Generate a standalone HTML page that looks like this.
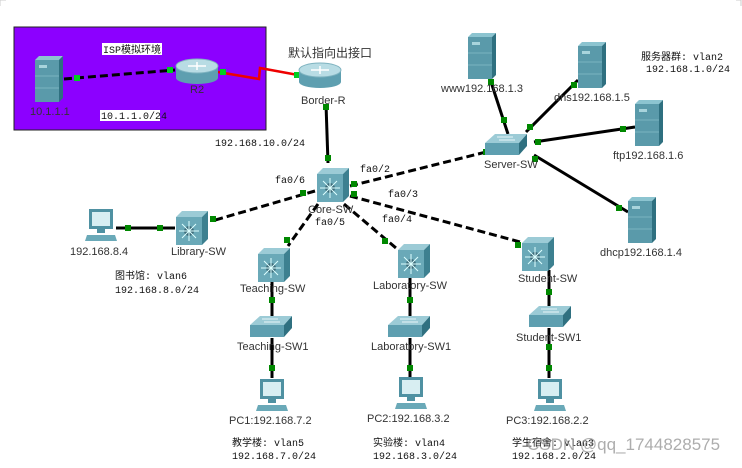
<!DOCTYPE html>
<html><head><meta charset="utf-8"><style>
html,body{margin:0;padding:0;background:#fff}
svg{display:block}
text{font-family:"Liberation Sans","Noto Sans CJK SC",sans-serif;font-size:11px;fill:#333}
.m{font-family:"Liberation Mono","Noto Sans CJK SC",monospace;font-size:10px;fill:#111}
</style></head><body>
<svg width="742" height="468" viewBox="0 0 742 468" xmlns="http://www.w3.org/2000/svg">
<defs>
<g id="srv"><rect x="0" y="4" width="24" height="42" fill="#5a9aaa"/><polygon points="0,4 4,0 28,0 24,4" fill="#8cc4d0"/><polygon points="24,4 28,0 28,42 24,46" fill="#2f7080"/><rect x="4" y="9" width="8" height="3" fill="#a8d4dc"/><line x1="0" y1="20" x2="24" y2="20" stroke="#7ab4c0"/><line x1="0" y1="32" x2="24" y2="32" stroke="#7ab4c0"/></g>
<g id="rtr"><rect x="0" y="8" width="42" height="12" fill="#5e9fb0"/><ellipse cx="21" cy="20" rx="21" ry="6" fill="#5e9fb0"/><ellipse cx="21" cy="8" rx="21" ry="7" fill="#b8dce4" stroke="#7fb3c0"/><path d="M12 8h18M21 4v8" stroke="#fff" stroke-width="1.5"/></g>
<g id="msw"><polygon points="0,6 6,0 32,0 26,6" fill="#9ccbd6"/><rect x="0" y="6" width="26" height="28" fill="#6aa9b8"/><polygon points="26,6 32,0 32,28 26,34" fill="#3d8090"/><circle cx="13" cy="20" r="5" fill="#3b6a78"/><path d="M13 10v20M3 20h20M6 13l14 14M20 13L6 27" stroke="#dff" stroke-width="1"/></g>
<g id="sw"><polygon points="0,9 10,0 42,0 34,9" fill="#9ccbd6"/><rect x="0" y="9" width="34" height="12" fill="#5e9fb0"/><polygon points="34,9 42,0 42,12 34,21" fill="#2f7080"/><path d="M12 3h16M14 6h16" stroke="#e8f6f8"/></g>
<g id="pc"><rect x="4" y="0" width="24" height="20" fill="#4f91a2"/><rect x="7" y="3" width="18" height="14" fill="#d8eef2"/><rect x="12" y="20" width="8" height="4" fill="#4f91a2"/><polygon points="2,26 30,26 32,32 0,32" fill="#6aa9b8"/></g>
</defs>
<path d="M0 6V0h6M736 0h5v6" stroke="#ccc" fill="none"/>
<rect x="14" y="27" width="252" height="103" fill="#8c00ff" stroke="#222"/>
<g stroke="#000" stroke-width="3" fill="none">
<path d="M64 79L175 70" stroke-dasharray="8,4"/>
<path d="M326 104L328 163"/>
<path d="M315 191L212 221" stroke-dasharray="8,4"/>
<path d="M116 228L175 228"/>
<path d="M318 204L288 246" stroke-dasharray="8,4"/>
<path d="M344 204L396 248" stroke-dasharray="8,4"/>
<path d="M350 196L535 246" stroke-dasharray="8,4"/>
<path d="M350 186L486 152" stroke-dasharray="8,4"/>
<path d="M491 82L508 134M578 80L526 132M635 127L534 142M534 155L628 212"/>
<path d="M272 278V316M272 338V378M410 278V316M410 338V378M549 270V306M549 328V378"/>
</g>
<path d="M218 72L259 79L260 68L298 75" stroke="#e00" stroke-width="2.5" fill="none"/>
<g fill="#00cc22"><rect x="74" y="75" width="6" height="6"/><rect x="167" y="67" width="6" height="6"/><rect x="220" y="69" width="6" height="6"/><rect x="294" y="72" width="6" height="6"/></g>
<g fill="#008800">
<rect x="323" y="104" width="6" height="6"/><rect x="325" y="155" width="6" height="6"/>
<rect x="300" y="190" width="6" height="6"/><rect x="210" y="216" width="6" height="6"/>
<rect x="125" y="225" width="6" height="6"/><rect x="157" y="225" width="6" height="6"/>
<rect x="284" y="237" width="6" height="6"/><rect x="382" y="238" width="6" height="6"/>
<rect x="515" y="242" width="6" height="6"/><rect x="483" y="149" width="6" height="6"/>
<rect x="351" y="181" width="6" height="6"/><rect x="351" y="191" width="6" height="6"/>
<rect x="488" y="79" width="6" height="6"/><rect x="501" y="117" width="6" height="6"/>
<rect x="571" y="82" width="6" height="6"/><rect x="527" y="124" width="6" height="6"/>
<rect x="620" y="126" width="6" height="6"/><rect x="535" y="139" width="6" height="6"/>
<rect x="532" y="156" width="6" height="6"/><rect x="616" y="205" width="6" height="6"/>
<rect x="269" y="297" width="6" height="6"/><rect x="269" y="365" width="6" height="6"/>
<rect x="407" y="297" width="6" height="6"/><rect x="407" y="365" width="6" height="6"/>
<rect x="546" y="289" width="6" height="6"/><rect x="546" y="344" width="6" height="6"/><rect x="546" y="365" width="6" height="6"/>
</g>
<use href="#srv" x="35" y="56"/>
<use href="#rtr" x="176" y="58"/>
<use href="#rtr" x="299" y="62"/>
<use href="#msw" x="317" y="168"/>
<use href="#msw" x="176" y="211"/>
<use href="#msw" x="258" y="248"/>
<use href="#msw" x="398" y="244"/>
<use href="#msw" x="522" y="237"/>
<use href="#sw" x="485" y="134"/>
<use href="#sw" x="250" y="316"/>
<use href="#sw" x="388" y="316"/>
<use href="#sw" x="529" y="306"/>
<use href="#srv" x="468" y="33"/>
<use href="#srv" x="578" y="42"/>
<use href="#srv" x="635" y="100"/>
<use href="#srv" x="628" y="197"/>
<use href="#pc" x="85" y="209"/>
<use href="#pc" x="256" y="379"/>
<use href="#pc" x="395" y="377"/>
<use href="#pc" x="534" y="379"/>
<rect x="102" y="43" width="60" height="12" fill="#fff"/>
<text x="103" y="53" class="m">ISP模拟环境</text>
<rect x="100" y="110" width="60" height="11" fill="#fff"/>
<text x="101" y="119" class="m">10.1.1.0/24</text>
<text x="30" y="115">10.1.1.1</text>
<text x="190" y="93">R2</text>
<text x="288" y="57" style="font-size:12px">默认指向出接口</text>
<text x="301" y="104">Border-R</text>
<text x="215" y="146" class="m">192.168.10.0/24</text>
<text x="308" y="213">Core-SW</text>
<text x="275" y="183" class="m">fa0/6</text>
<text x="315" y="225" class="m">fa0/5</text>
<text x="360" y="172" class="m">fa0/2</text>
<text x="388" y="197" class="m">fa0/3</text>
<text x="382" y="222" class="m">fa0/4</text>
<text x="70" y="255">192.168.8.4</text>
<text x="171" y="255">Library-SW</text>
<text x="115" y="279" class="m">图书馆: vlan6</text>
<text x="115" y="293" class="m">192.168.8.0/24</text>
<text x="240" y="292">Teaching-SW</text>
<text x="373" y="289">Laboratory-SW</text>
<text x="518" y="282">Student-SW</text>
<text x="237" y="350">Teaching-SW1</text>
<text x="371" y="350">Laboratory-SW1</text>
<text x="516" y="341">Student-SW1</text>
<text x="229" y="424">PC1:192.168.7.2</text>
<text x="367" y="422">PC2:192.168.3.2</text>
<text x="506" y="424">PC3:192.168.2.2</text>
<text x="232" y="446" class="m">教学楼: vlan5</text>
<text x="232" y="459" class="m">192.168.7.0/24</text>
<text x="373" y="446" class="m">实验楼: vlan4</text>
<text x="373" y="459" class="m">192.168.3.0/24</text>
<text x="512" y="446" class="m">学生宿舍: vlan3</text>
<text x="512" y="459" class="m">192.168.2.0/24</text>
<text x="441" y="92">www192.168.1.3</text>
<text x="554" y="101">dns192.168.1.5</text>
<text x="484" y="168">Server-SW</text>
<text x="613" y="159">ftp192.168.1.6</text>
<text x="600" y="256">dhcp192.168.1.4</text>
<text x="641" y="60" class="m">服务器群: vlan2</text>
<text x="646" y="72" class="m">192.168.1.0/24</text>
<text x="527" y="450" style="font-size:17px;fill:#999;opacity:0.8">CSDN @qq_1744828575</text>
</svg>
</body></html>
